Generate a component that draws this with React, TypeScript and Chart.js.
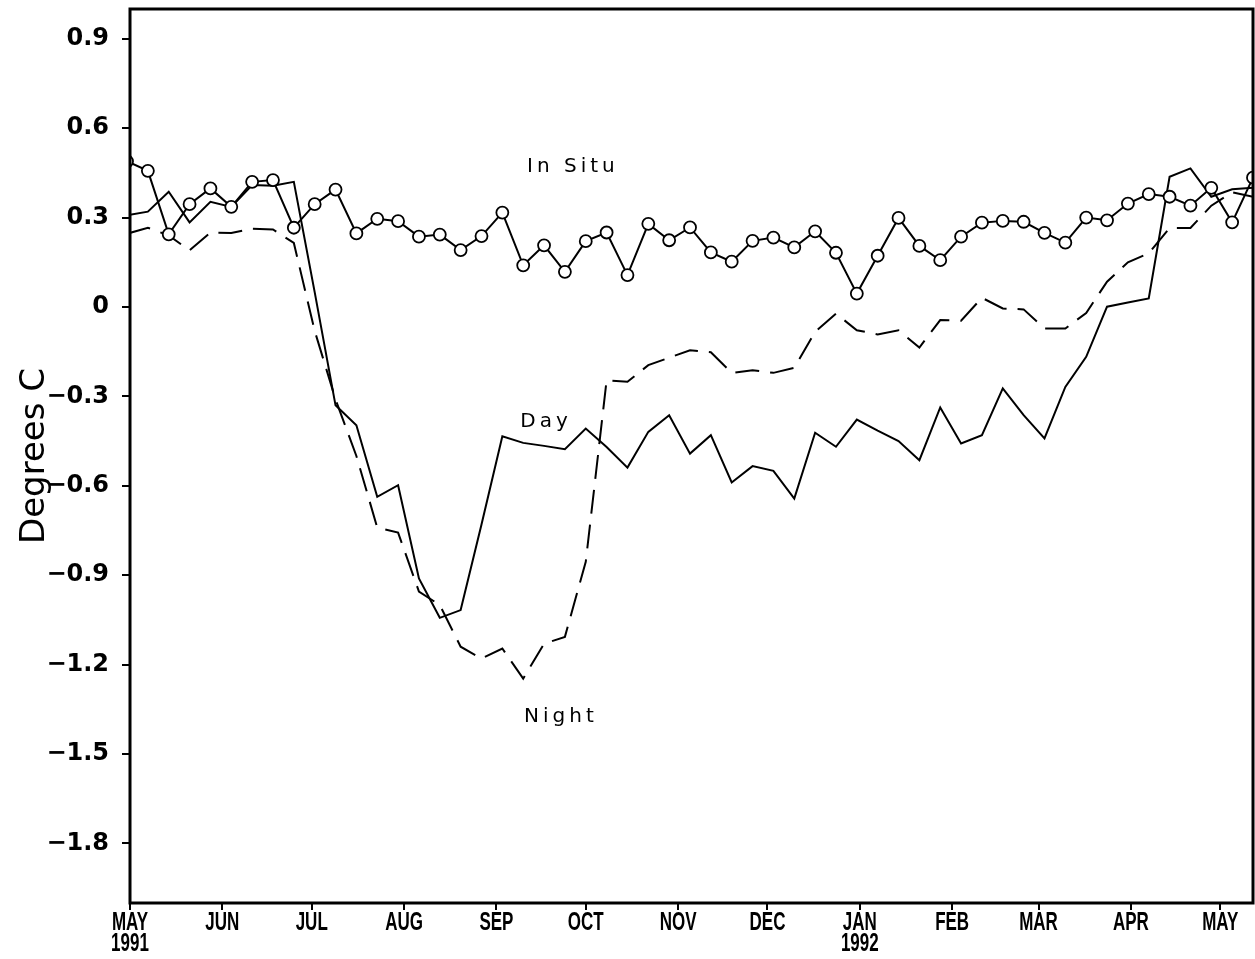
import React, { useEffect, useRef } from "react";
import { Chart, registerables } from "chart.js";

Chart.register(...registerables);

// Weekly sample days, counted from 1 May 1991
const days = [-1, 6, 13, 20, 27, 34, 41, 48, 55, 62, 69, 76, 83, 90, 97, 104, 111, 118, 125, 132, 139, 146, 153, 160, 167, 174, 181, 188, 195, 202, 209, 216, 223, 230, 237, 244, 251, 258, 265, 272, 279, 286, 293, 300, 307, 314, 321, 328, 335, 342, 349, 356, 363, 370, 377];

const inSitu = [0.489, 0.457, 0.244, 0.345, 0.398, 0.336, 0.42, 0.426, 0.266, 0.345, 0.394, 0.247, 0.296, 0.288, 0.236, 0.243, 0.191, 0.238, 0.317, 0.14, 0.207, 0.118, 0.221, 0.25, 0.107, 0.279, 0.224, 0.267, 0.183, 0.152, 0.222, 0.233, 0.2, 0.254, 0.182, 0.045, 0.172, 0.299, 0.205, 0.157, 0.236, 0.283, 0.289, 0.286, 0.249, 0.216, 0.3, 0.291, 0.347, 0.379, 0.37, 0.34, 0.4, 0.284, 0.434];

const daySeries = [0.308, 0.32, 0.387, 0.284, 0.353, 0.336, 0.409, 0.407, 0.42, 0.05, -0.33, -0.397, -0.637, -0.598, -0.911, -1.043, -1.017, -0.73, -0.434, -0.456, -0.466, -0.477, -0.408, -0.47, -0.539, -0.419, -0.363, -0.492, -0.43, -0.589, -0.534, -0.55, -0.643, -0.422, -0.469, -0.378, -0.415, -0.45, -0.514, -0.337, -0.458, -0.43, -0.273, -0.363, -0.441, -0.268, -0.167, 0.001, 0.015, 0.029, 0.437, 0.465, 0.37, 0.395, 0.4];

const nightSeries = [0.246, 0.266, 0.24, 0.19, 0.25, 0.248, 0.263, 0.26, 0.215, -0.08, -0.31, -0.5, -0.74, -0.757, -0.955, -1.0, -1.14, -1.18, -1.146, -1.247, -1.13, -1.107, -0.855, -0.246, -0.251, -0.195, -0.17, -0.145, -0.152, -0.221, -0.212, -0.221, -0.204, -0.083, -0.022, -0.078, -0.092, -0.078, -0.136, -0.044, -0.046, 0.031, -0.005, -0.008, -0.072, -0.072, -0.02, 0.085, 0.15, 0.18, 0.265, 0.265, 0.34, 0.385, 0.37];

const monthTickDays = [0, 31, 61, 92, 123, 153, 184, 214, 245, 276, 305, 336, 366];
const monthLabels = ["MAY", "JUN", "JUL", "AUG", "SEP", "OCT", "NOV", "DEC", "JAN", "FEB", "MAR", "APR", "MAY"];
const yearLabels = ["1991", "", "", "", "", "", "", "", "1992", "", "", "", ""];

const yTicks = [-1.8, -1.5, -1.2, -0.9, -0.6, -0.3, 0, 0.3, 0.6, 0.9];

const seriesLabels = ["In Situ", "Day", "Night"];

const fmtY = (v: number) => {
  if (Math.abs(v) < 1e-9) return "0";
  const s = Math.abs(v).toFixed(1);
  return v < 0 ? "\u2212" + s : s;
};

const decoPlugin = {
  id: "deco",
  afterDraw(chart: any) {
    const { ctx, chartArea } = chart;
    const xs = chart.scales.x;
    const ys = chart.scales.y;
    ctx.save();
    ctx.strokeStyle = "#000";
    ctx.lineWidth = 3;
    ctx.strokeRect(chartArea.left, chartArea.top, chartArea.right - chartArea.left, chartArea.bottom - chartArea.top);

    ctx.fillStyle = "#000";

    // X month labels (condensed, bold)
    ctx.font = "bold 25px 'Liberation Sans', Arial, sans-serif";
    ctx.textAlign = "center";
    ctx.textBaseline = "top";
    monthTickDays.forEach((d, i) => {
      const px = xs.getPixelForValue(d);
      ctx.save();
      ctx.translate(px, chartArea.bottom + 8);
      ctx.scale(0.68, 1);
      ctx.fillText(monthLabels[i], 0, 0);
      if (yearLabels[i]) ctx.fillText(yearLabels[i], 0, 21);
      ctx.restore();
    });

    // Y axis title
    ctx.font = "34px 'DejaVu Sans', sans-serif";
    ctx.textAlign = "center";
    ctx.textBaseline = "middle";
    ctx.save();
    ctx.translate(35, (chartArea.top + chartArea.bottom) / 2);
    ctx.rotate(-Math.PI / 2);
    ctx.fillText("Degrees C", 0, 0);
    ctx.restore();

    // Series annotations
    ctx.font = "20px 'DejaVu Sans', sans-serif";
    (ctx as any).letterSpacing = "4px";
    ctx.textBaseline = "middle";
    const anchors = [
      { text: seriesLabels[0], d: 148, v: 0.47 },
      { text: seriesLabels[1], d: 139, v: -0.385 },
      { text: seriesLabels[2], d: 144, v: -1.375 },
    ];
    anchors.forEach((a) => {
      ctx.fillText(a.text, xs.getPixelForValue(a.d) + 2, ys.getPixelForValue(a.v));
    });
    ctx.restore();
  },
};

export default function App() {
  const ref = useRef<HTMLCanvasElement | null>(null);

  useEffect(() => {
    if (!ref.current) return;
    const tickFontY = { family: "'DejaVu Sans', sans-serif", size: 24, weight: "bold" as const };

    const chart = new Chart(ref.current, {
      type: "line",
      data: {
        datasets: [
          {
            label: seriesLabels[0],
            data: days.map((d, i) => ({ x: d, y: inSitu[i] })),
            borderColor: "#000",
            borderWidth: 2,
            pointRadius: 6,
            pointBackgroundColor: "#fff",
            pointBorderColor: "#000",
            pointBorderWidth: 1.8,
            tension: 0,
          },
          {
            label: seriesLabels[1],
            data: days.map((d, i) => ({ x: d, y: daySeries[i] })),
            borderColor: "#000",
            borderWidth: 2,
            pointRadius: 0,
            tension: 0,
          },
          {
            label: seriesLabels[2],
            data: days.map((d, i) => ({ x: d, y: nightSeries[i] })),
            borderColor: "#000",
            borderWidth: 2,
            borderDash: [24, 11],
            pointRadius: 0,
            tension: 0,
          },
        ],
      },
      options: {
        animation: false,
        responsive: false,
        layout: { autoPadding: false, padding: { top: 9, right: 2, left: 0, bottom: 0 } },
        plugins: { legend: { display: false }, tooltip: { enabled: false } },
        scales: {
          x: {
            type: "linear",
            min: 0,
            max: 377,
            afterBuildTicks: (s: any) => {
              s.ticks = monthTickDays.map((v) => ({ value: v }));
            },
            afterFit: (s: any) => {
              s.height = 56;
              s.paddingLeft = 0;
              s.paddingRight = 0;
            },
            ticks: { display: false, autoSkip: false, maxRotation: 0 },
            grid: { drawOnChartArea: false, drawTicks: true, tickLength: 7, color: "#000", lineWidth: 2 },
            border: { display: false },
          },
          y: {
            type: "linear",
            min: -2,
            max: 1,
            afterBuildTicks: (s: any) => {
              s.ticks = yTicks.map((v) => ({ value: v }));
            },
            afterFit: (s: any) => {
              s.width = 130;
              s.paddingTop = 0;
              s.paddingBottom = 0;
            },
            ticks: {
              padding: 13,
              color: "#000",
              font: tickFontY,
              callback: (v: any) => fmtY(Number(v)),
            },
            grid: { drawOnChartArea: false, drawTicks: true, tickLength: 8, color: "#000", lineWidth: 2 },
            border: { display: false },
          },
        },
      },
      plugins: [decoPlugin],
    });
    return () => chart.destroy();
  }, []);

  return (
    <div style={{ position: "absolute", left: 0, top: 0, width: 1255, height: 959, background: "#fff" }}>
      <canvas ref={ref} width={1255} height={959} style={{ display: "block" }} />
    </div>
  );
}
